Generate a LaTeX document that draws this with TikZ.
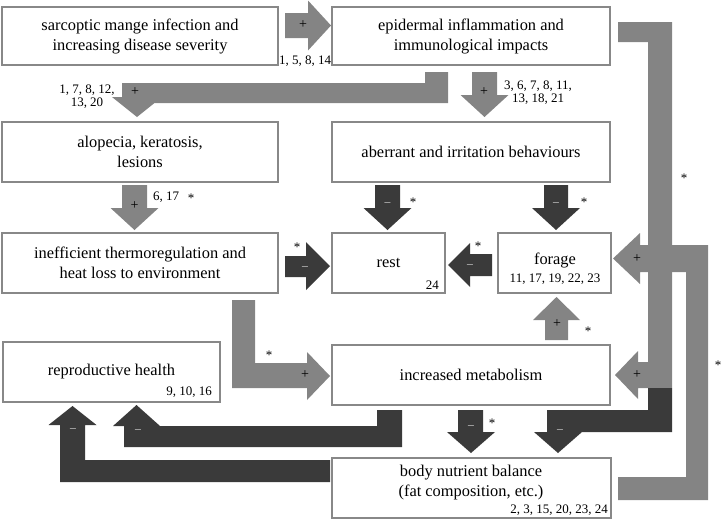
\documentclass[tikz,border=0pt]{standalone}
\usepackage{fontspec}
\setmainfont{Liberation Serif}
\definecolor{garr}{HTML}{848484}
\definecolor{darr}{HTML}{3A3A3A}
\definecolor{bord}{HTML}{888888}
\definecolor{txt}{HTML}{000000}
\newcommand\mainfs{\fontsize{16.4}{20}\selectfont}
\newcommand\numfs{\fontsize{13}{13.5}\selectfont}
\begin{document}
\begin{tikzpicture}[x=1pt,y=-1pt,
  box/.style={draw=bord, line width=2.5pt, fill=white, inner sep=0pt, align=center, font=\mainfs, text=txt},
  garrow/.style={fill=garr},
  darrow/.style={fill=darr},
  num/.style={font=\numfs, inner sep=0pt, text=txt, align=center},
  plus/.style={font=\fontsize{14}{14}\selectfont, inner sep=0pt, text=txt, anchor=base, yshift=-3.5pt},
  minus/.style={font=\numfs, inner sep=0pt, text=white!82!black, anchor=base, yshift=-3.3pt},
  star/.style={font=\numfs, inner sep=0pt, text=txt, anchor=base, yshift=-6.5pt}]
\useasboundingbox (0,0) rectangle (722,520);

% ---------- block arrows ----------
% sarcoptic -> epidermal
\fill[garrow] (285,13) -- (308,13) -- (308,0.5) -- (331,25.5) -- (308,50.5) -- (308,38) -- (285,38) -- cycle;
% epidermal -> alopecia
\fill[garrow] (425,72) -- (448,72) -- (448,103) -- (154.5,103) -- (137,117) -- (112,97) -- (122,97) -- (122,83) -- (425,83) -- cycle;
% epidermal -> aberrant
\fill[garrow] (472,72) -- (497,72) -- (497,95) -- (508.5,95) -- (484.5,117) -- (460.5,95) -- (472,95) -- cycle;
% alopecia -> thermoregulation
\fill[garrow] (122,185) -- (147,185) -- (147,208) -- (158.5,208) -- (134.5,230) -- (110.5,208) -- (122,208) -- cycle;
% aberrant -> rest
\fill[darrow] (375,185) -- (400,185) -- (400,208) -- (411.5,208) -- (387.5,230) -- (363.5,208) -- (375,208) -- cycle;
% aberrant -> forage
\fill[darrow] (544,185) -- (568,185) -- (568,208) -- (580,208) -- (556,230) -- (532,208) -- (544,208) -- cycle;
% thermoregulation -> rest
\fill[darrow] (285,256) -- (306,256) -- (306,242) -- (330,266) -- (306,290) -- (306,277) -- (285,277) -- cycle;
% forage -> rest
\fill[darrow] (492,254) -- (470,254) -- (470,243) -- (448,265) -- (470,287) -- (470,276) -- (492,276) -- cycle;
% body nutrient balance -> forage (right bracket)
\fill[garrow] (613,258.5) -- (640,233) -- (640,245) -- (708,245) -- (708,500) -- (618,500) -- (618,477) -- (686,477) -- (686,272) -- (640,272) -- (640,284) -- cycle;
% epidermal -> forage / metabolism (long bracket)
\fill[garrow] (618,22) -- (672,22) -- (672,388) -- (638,388) -- (638,399) -- (615,375) -- (638,351) -- (638,362) -- (648,362) -- (648,42) -- (618,42) -- cycle;
% continuation -> body nutrient balance
\fill[darrow] (648,388) -- (672,388) -- (672,432) -- (582,432) -- (558,453) -- (534,432) -- (547,432) -- (547,410) -- (648,410) -- cycle;
% metabolism -> forage
\fill[garrow] (545,340) -- (568,340) -- (568,320) -- (580,320) -- (556.5,297) -- (533,320) -- (545,320) -- cycle;
% thermoregulation -> metabolism
\fill[garrow] (232,300) -- (255,300) -- (255,363) -- (307,363) -- (307,352) -- (330,376) -- (307,400) -- (307,388) -- (232,388) -- cycle;
% metabolism -> body nutrient balance
\fill[darrow] (458,410) -- (483,410) -- (483,432) -- (495,432) -- (471,453) -- (447,432) -- (458,432) -- cycle;
% metabolism -> reproductive health
\fill[darrow] (402,410) -- (402,447) -- (124,447) -- (124,426) -- (113,426) -- (136.5,405) -- (160,426) -- (377,426) -- (377,410) -- cycle;
% body nutrient balance -> reproductive health
\fill[darrow] (330,460) -- (330,482) -- (60,482) -- (60,425) -- (48.5,425) -- (72.5,406) -- (96.5,425) -- (85,425) -- (85,460) -- cycle;

% ---------- boxes ----------
\node[box, minimum width=276pt, minimum height=58pt] (sar) at (140,36) {sarcoptic mange infection and\\increasing disease severity};
\node[box, minimum width=278pt, minimum height=58pt] (epi) at (471,36) {epidermal inflammation and\\immunological impacts};
\node[box, minimum width=276pt, minimum height=60pt] (alo) at (140,152) {alopecia, keratosis,\\lesions};
\node[box, minimum width=278pt, minimum height=60pt] (abe) at (471,152) {aberrant and irritation behaviours};
\node[box, minimum width=276pt, minimum height=60pt] (the) at (140,263) {inefficient thermoregulation and\\heat loss to environment};
\node[box, minimum width=113pt, minimum height=60pt] (res) at (388.5,263) {rest};
\node[box, minimum width=113pt, minimum height=60pt] (for) at (554.5,263) {};
\node[box, minimum width=217pt, minimum height=60pt] (rep) at (111.5,372) {reproductive health};
\node[box, minimum width=278pt, minimum height=60pt] (met) at (471,375) {increased metabolism};
\node[box, minimum width=279pt, minimum height=60pt] (nut) at (471.5,488) {};

\node[font=\mainfs, inner sep=0pt, text=txt] (fortxt) at (555,260) {forage};
\node[num] (fornum) at (555,279) {11, 17, 19, 22, 23};
\node[font=\mainfs, inner sep=0pt, text=txt, align=center] (nuttxt) at (471,483) {body nutrient balance\\(fat composition, etc.)};
\node[num, anchor=east] (nutnum) at (608,510) {2, 3, 15, 20, 23, 24};
\node[num, anchor=east] (resnum) at (439,285) {24};
\node[num, anchor=east] (repnum) at (212,392) {9, 10, 16};

% ---------- arrow labels ----------
\node[plus] (p1) at (303,25) {+};
\node[num] (n1) at (305,61) {1, 5, 8, 14};
\node[plus] (p2) at (135,92) {+};
\node[num] (n2) at (87,96.5) {1, 7, 8, 12,\\13, 20};
\node[plus] (p3) at (484,92) {+};
\node[num] (n3) at (538,92.5) {3, 6, 7, 8, 11,\\13, 18, 21};
\node[plus] (p4) at (134.5,206) {+};
\node[num, anchor=west] (n4) at (153,197) {6, 17};
\node[star] (s4) at (191,196) {*};
\node[minus] (m5) at (387.5,204) {−};
\node[star] (s5) at (413,200) {*};
\node[minus] (m6) at (556,204) {−};
\node[star] (s6) at (584,200) {*};
\node[minus] (m7) at (305,268) {−};
\node[star] (s7) at (297,245) {*};
\node[minus] (m8) at (470,266) {−};
\node[star] (s8) at (478,244) {*};
\node[plus] (p9) at (637,259) {+};
\node[star] (s9) at (718,363) {*};
\node[star] (s10) at (684,176) {*};
\node[plus] (p10) at (637,375) {+};
\node[minus] (m11) at (560,431) {−};
\node[plus] (p12) at (557,324) {+};
\node[star] (s12) at (588,329) {*};
\node[star] (s13) at (269,353) {*};
\node[plus] (p13) at (305,375) {+};
\node[minus] (m14) at (471,427) {−};
\node[star] (s14) at (492,421) {*};
\node[minus] (m15) at (138,431) {−};
\node[minus] (m16) at (73,430) {−};
\end{tikzpicture}
\end{document}
